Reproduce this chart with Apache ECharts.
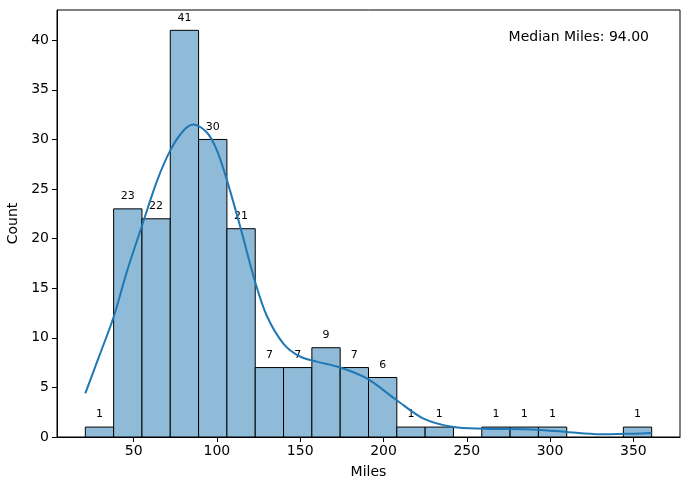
<!DOCTYPE html>
<html>
<head>
<meta charset="utf-8">
<script src="https://cdn.jsdelivr.net/npm/echarts@6/dist/echarts.min.js"></script>
<style>
  html, body { margin: 0; padding: 0; background: #fff; }
  #main { width: 690px; height: 490px; }
</style>
</head>
<body>
<div id="main"></div>
<script>
// 直方图的分箱边界 (Miles)
var binEdges = [21, 38, 55, 72, 89, 106, 123, 140, 157, 174, 191, 208, 225, 242, 259, 276, 293, 310, 327, 344, 361];
// 每个分箱的数量
var counts = [1, 23, 22, 41, 30, 21, 7, 7, 9, 7, 6, 1, 1, 0, 1, 1, 1, 0, 0, 1];
// KDE 曲线 (从图上读出的点)
var kdeX = [21, 29, 38, 46, 55, 64, 72, 80, 86, 94, 100, 106, 114, 123, 130, 140, 150, 160, 174, 190, 208, 224, 242, 260, 292, 310, 330, 350, 361];
var kdeY = [4.4, 8.0, 12.1, 16.7, 21.3, 25.8, 28.9, 30.9, 31.5, 30.7, 28.9, 25.9, 21.2, 15.6, 12.2, 9.4, 8.1, 7.6, 7.0, 5.9, 3.7, 1.85, 1.0, 0.84, 0.74, 0.5, 0.27, 0.34, 0.4];
// 坐标轴刻度
var xTicks = [50, 100, 150, 200, 250, 300, 350];
var yTicks = [0, 5, 10, 15, 20, 25, 30, 35, 40];
var medianMiles = 94;

var barData = [];
for (var i = 0; i < counts.length; i++) {
    barData.push([binEdges[i], binEdges[i + 1], counts[i]]);
}
var kdeData = [];
for (var j = 0; j < kdeX.length; j++) {
    kdeData.push([kdeX[j], kdeY[j]]);
}

var myChart = echarts.init(document.getElementById('main'));

var font = 'DejaVu Sans';

var option = {
    animation: false,
    grid: {
        left: 57, right: 10, top: 10, bottom: 53,
        outerBoundsMode: 'none',
        containLabel: false,
        show: true, borderColor: '#000', borderWidth: 1
    },
    xAxis: {
        type: 'value',
        min: 4, max: 378,
        name: 'Miles',
        nameLocation: 'middle',
        nameGap: 28,
        nameTextStyle: { color: '#000', fontSize: 14, fontFamily: font },
        axisLine: { show: true, lineStyle: { color: '#000', width: 1 } },
        axisTick: { show: true, length: 5, customValues: xTicks, lineStyle: { color: '#000' } },
        axisLabel: { customValues: xTicks, color: '#000', fontSize: 14, fontFamily: font, margin: 7 },
        splitLine: { show: false }
    },
    yAxis: {
        type: 'value',
        min: 0, max: 43.05,
        name: 'Count',
        nameLocation: 'middle',
        nameGap: 31,
        nameTextStyle: { color: '#000', fontSize: 14, fontFamily: font },
        axisLine: { show: true, lineStyle: { color: '#000', width: 1 } },
        axisTick: { show: true, length: 5, customValues: yTicks, lineStyle: { color: '#000' } },
        axisLabel: { customValues: yTicks, color: '#000', fontSize: 14, fontFamily: font, margin: 8 },
        splitLine: { show: false }
    },
    graphic: [
        {
            type: 'text',
            right: 41,
            top: 30,
            style: {
                text: 'Median Miles: ' + medianMiles.toFixed(2),
                font: '14px "DejaVu Sans"',
                fill: '#000'
            }
        }
    ],
    series: [
        {
            type: 'custom',
            data: barData,
            z: 2,
            renderItem: function (params, api) {
                var c = api.value(2);
                if (c <= 0) return;
                var p0 = api.coord([api.value(0), c]);
                var p1 = api.coord([api.value(1), 0]);
                return {
                    type: 'group',
                    children: [
                        {
                            type: 'rect',
                            shape: { x: p0[0], y: p0[1], width: p1[0] - p0[0], height: p1[1] - p0[1] },
                            style: { fill: '#8fbbd9', stroke: '#000', lineWidth: 1 }
                        },
                        {
                            type: 'text',
                            x: (p0[0] + p1[0]) / 2,
                            y: p0[1] - 7,
                            style: {
                                text: String(c),
                                align: 'center',
                                verticalAlign: 'bottom',
                                font: '11px "DejaVu Sans"',
                                fill: '#000'
                            }
                        }
                    ]
                };
            }
        },
        {
            type: 'line',
            data: kdeData,
            z: 3,
            smooth: 0.3,
            symbol: 'none',
            lineStyle: { color: '#1f77b4', width: 2 }
        }
    ]
};

myChart.setOption(option);
</script>
</body>
</html>
